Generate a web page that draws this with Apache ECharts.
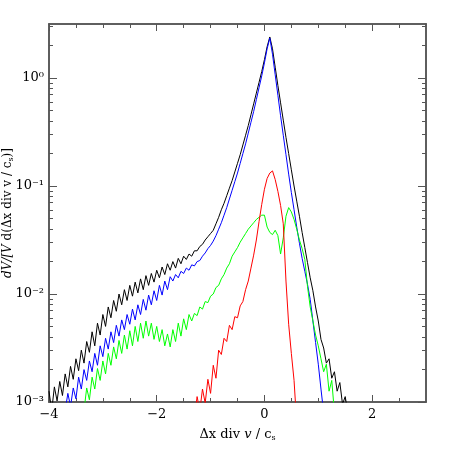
<!DOCTYPE html>
<html>
<head>
<meta charset="utf-8">
<script src="https://cdn.jsdelivr.net/npm/echarts@6/dist/echarts.min.js"></script>
<style>
html, body { margin: 0; padding: 0; background: #fff; }
#main { width: 450px; height: 450px; }
</style>
</head>
<body>
<div id="main"></div>
<script>
// bin centres (dx div v / c_s)
var xs = [
  -4.00, -3.95, -3.90, -3.85, -3.80, -3.75, -3.70, -3.65, -3.60, -3.55,
  -3.50, -3.45, -3.40, -3.35, -3.30, -3.25, -3.20, -3.15, -3.10, -3.05,
  -3.00, -2.95, -2.90, -2.85, -2.80, -2.75, -2.70, -2.65, -2.60, -2.55,
  -2.50, -2.45, -2.40, -2.35, -2.30, -2.25, -2.20, -2.15, -2.10, -2.05,
  -2.00, -1.95, -1.90, -1.85, -1.80, -1.75, -1.70, -1.65, -1.60, -1.55,
  -1.50, -1.45, -1.40, -1.35, -1.30, -1.25, -1.20, -1.15, -1.10, -1.05,
  -1.00, -0.95, -0.90, -0.85, -0.80, -0.75, -0.70, -0.65, -0.60, -0.55,
  -0.50, -0.45, -0.40, -0.35, -0.30, -0.25, -0.20, -0.15, -0.10, -0.05,
   0.00,  0.05,  0.10,  0.15,  0.20,  0.25,  0.30,  0.35,  0.40,  0.45,
   0.50,  0.55,  0.60,  0.65,  0.70,  0.75,  0.80,  0.85,  0.90,  0.95,
   1.00,  1.05,  1.10,  1.15,  1.20,  1.25,  1.30,  1.35,  1.40,  1.45,
   1.50,  1.55,  1.60
];

// log10 of dV/[V d(...)]; each series starts at its own bin
var blackStart = -4.00;
var black = [
  -2.90, -3.08, -2.86, -2.99, -2.81, -2.94, -2.74, -2.86, -2.67, -2.79,
  -2.60, -2.71, -2.52, -2.64, -2.44, -2.54, -2.35, -2.48, -2.27, -2.38,
  -2.19, -2.30, -2.12, -2.22, -2.06, -2.16, -2.00, -2.10, -1.96, -2.06,
  -1.92, -2.02, -1.89, -1.99, -1.86, -1.96, -1.83, -1.92, -1.81, -1.89,
  -1.78, -1.85, -1.75, -1.82, -1.72, -1.78, -1.70, -1.76, -1.67, -1.72,
  -1.65, -1.68, -1.63, -1.65, -1.60, -1.60, -1.56, -1.54, -1.50, -1.47,
  -1.44, -1.41, -1.35, -1.29, -1.22, -1.16, -1.09, -1.02, -0.95, -0.87,
  -0.79, -0.71, -0.62, -0.53, -0.44, -0.34, -0.24, -0.14, -0.04,  0.06,
   0.17,  0.29,  0.38,  0.27,  0.10, -0.07, -0.23, -0.39, -0.55, -0.70,
  -0.85, -1.00, -1.14, -1.28, -1.43, -1.57, -1.71, -1.85, -1.97, -2.12,
  -2.25, -2.42, -2.50, -2.64, -2.60, -2.78, -2.72, -2.90, -2.82, -3.02,
  -2.95, -3.10
];

var blueStart = -3.70;
var blue = [
  -3.08, -2.92, -3.04, -2.87, -2.97, -2.77, -2.88, -2.70, -2.80, -2.62,
  -2.72, -2.55, -2.66, -2.48, -2.58, -2.41, -2.51, -2.35, -2.45, -2.29,
  -2.39, -2.24, -2.33, -2.19, -2.28, -2.14, -2.24, -2.10, -2.19, -2.05,
  -2.15, -2.01, -2.10, -1.97, -2.06, -1.92, -2.01, -1.88, -1.96, -1.84,
  -1.88, -1.82, -1.85, -1.79, -1.81, -1.76, -1.78, -1.73, -1.74, -1.70,
  -1.69, -1.65, -1.62, -1.58, -1.55, -1.51, -1.46, -1.40, -1.34, -1.27,
  -1.20, -1.12, -1.04, -0.96, -0.88, -0.79, -0.70, -0.61, -0.51, -0.41,
  -0.31, -0.20, -0.09,  0.02,  0.14,  0.27,  0.37,  0.22,  0.03, -0.16,
  -0.35, -0.53, -0.71, -0.89, -1.06, -1.22, -1.38, -1.53, -1.67, -1.79,
  -1.91, -2.05, -2.25, -2.45, -2.65, -2.88, -3.10
];

var greenStart = -3.35;
var green = [
  -3.08, -2.87, -2.98, -2.77, -2.88, -2.69, -2.80, -2.62, -2.74, -2.55,
  -2.66, -2.49, -2.60, -2.43, -2.55, -2.38, -2.51, -2.34, -2.48, -2.30,
  -2.44, -2.27, -2.41, -2.25, -2.39, -2.27, -2.42, -2.30, -2.44, -2.33,
  -2.48, -2.37, -2.49, -2.33, -2.44, -2.27, -2.39, -2.23, -2.33, -2.19,
  -2.25, -2.18, -2.20, -2.12, -2.14, -2.07, -2.08, -2.02, -2.00, -1.94,
  -1.92, -1.86, -1.82, -1.76, -1.72, -1.65, -1.61, -1.57, -1.52, -1.48,
  -1.44, -1.40, -1.37, -1.34, -1.31, -1.29, -1.27, -1.27, -1.38, -1.43,
  -1.45, -1.41, -1.46, -1.63, -1.48, -1.28, -1.20, -1.24, -1.31, -1.40,
  -1.50, -1.58, -1.68, -1.93, -2.12, -2.25, -2.38, -2.48, -2.60, -2.72,
  -2.65, -2.90, -2.80, -3.10
];

var redStart = -1.30;
var red = [
  -3.15, -2.95, -3.08, -2.88, -3.01, -2.79, -2.92, -2.66, -2.78, -2.52,
  -2.56, -2.41, -2.44, -2.29, -2.33, -2.21, -2.22, -2.11, -2.07, -1.96,
  -1.88, -1.76, -1.64, -1.50, -1.33, -1.17, -1.03, -0.93, -0.88, -0.86,
  -0.94, -1.05, -1.18, -1.35, -1.88, -2.28, -2.55, -2.80, -3.20
];

// axis ticks
var xMajor = [-4, -2, 0, 2];
var xMinor = [-3.5, -3, -2.5, -1.5, -1, -0.5, 0.5, 1, 1.5, 2.5];
var yMajor = [-3, -2, -1, 0];
var yTickLabels = ['10\u207b\u00b3', '10\u207b\u00b2', '10\u207b\u00b9', '10\u2070'];

var yMinor = [];
for (var n = -3; n <= 0; n++) {
  for (var k = 2; k <= 9; k++) {
    var t = n + Math.log10(k);
    if (t < 0.5) yMinor.push(t);
  }
}

function pairs(start, vals) {
  var i0 = xs.indexOf(start);
  return vals.map(function (v, i) { return [xs[i0 + i], v]; });
}

var frameColor = '#555';
var font = 'DejaVu Serif';

function xAxis(pos, ticks, len, labels) {
  return {
    type: 'value', position: pos, min: -4, max: 3,
    axisLine: { show: true, onZero: false, lineStyle: { color: frameColor, width: 1.5 } },
    axisTick: { show: true, inside: true, length: len, customValues: ticks, lineStyle: { color: frameColor, width: 1 } },
    axisLabel: {
      show: labels, customValues: xMajor, margin: 6, color: '#000',
      fontFamily: font, fontSize: 13,
      formatter: function (v) { return v < 0 ? '\u2212' + (-v) : String(v); }
    },
    splitLine: { show: false }
  };
}

function yAxis(pos, ticks, len, labels) {
  return {
    type: 'value', position: pos, min: -3, max: 0.5,
    axisLine: { show: true, onZero: false, lineStyle: { color: frameColor, width: 1.5 } },
    axisTick: { show: true, inside: true, length: len, customValues: ticks, lineStyle: { color: frameColor, width: 1 } },
    axisLabel: {
      show: labels, customValues: yMajor, margin: 5, color: '#000',
      fontFamily: font, fontSize: 13,
      formatter: function (v) { return yTickLabels[yMajor.indexOf(Math.round(v))]; }
    },
    splitLine: { show: false }
  };
}

var xAxes = [
  xAxis('bottom', xMajor, 7, true),
  xAxis('bottom', xMinor, 4, false),
  xAxis('top', xMajor, 7, false),
  xAxis('top', xMinor, 4, false)
];
xAxes[0].name = '\u0394x div {i|v} / c{s|s}';
xAxes[0].nameLocation = 'middle';
xAxes[0].nameGap = 25;
xAxes[0].nameMoveOverlap = false;
xAxes[0].nameTextStyle = {
  fontFamily: font, fontSize: 13, color: '#000',
  rich: {
    i: { fontFamily: font, fontSize: 13, fontStyle: 'italic', color: '#000' },
    s: { fontFamily: font, fontSize: 8, color: '#000', padding: [7, 0, 0, 0] }
  }
};

var yAxes = [
  yAxis('left', yMajor, 8, true),
  yAxis('left', yMinor, 4, false),
  yAxis('right', yMajor, 8, false),
  yAxis('right', yMinor, 4, false)
];
yAxes[0].name = '{i|dV/[V} d(\u0394x div v / c{s|s})]';
yAxes[0].nameLocation = 'middle';
yAxes[0].nameGap = 34;
yAxes[0].nameMoveOverlap = false;
yAxes[0].nameTextStyle = {
  fontFamily: font, fontSize: 12, color: '#000',
  rich: {
    i: { fontFamily: font, fontSize: 12, fontStyle: 'italic', color: '#000' },
    s: { fontFamily: font, fontSize: 8, color: '#000', padding: [7, 0, 0, 0] }
  }
};

function line(data, color) {
  return {
    type: 'line', data: data, xAxisIndex: 0, yAxisIndex: 0,
    symbol: 'none', clip: true, animation: false,
    lineStyle: { color: color, width: 1 }
  };
}

var chart = echarts.init(document.getElementById('main'));
chart.setOption({
  animation: false,
  grid: { left: 49, right: 24, top: 24, bottom: 48, containLabel: false, outerBoundsMode: 'none' },
  xAxis: xAxes,
  yAxis: yAxes,
  series: [
    line(pairs(blackStart, black), '#000000'),
    line(pairs(blueStart, blue), '#0000ff'),
    line(pairs(greenStart, green), '#00ff00'),
    line(pairs(redStart, red), '#ff0000')
  ]
});
</script>
</body>
</html>
